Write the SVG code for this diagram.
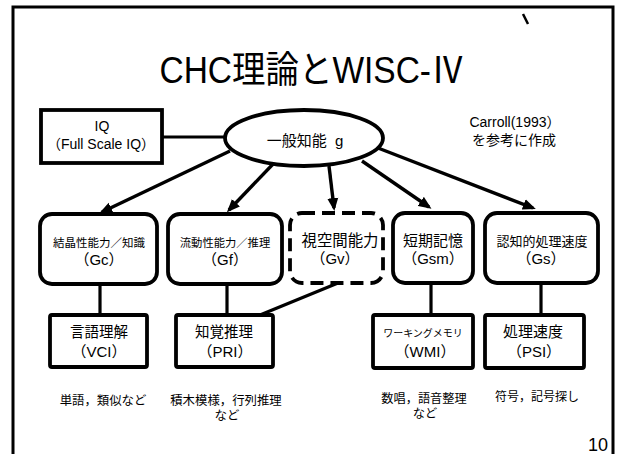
<svg xmlns="http://www.w3.org/2000/svg" width="620" height="454" viewBox="0 0 620 454">
<defs>
<style>
text{font-family:"Liberation Sans","Noto Sans CJK JP",sans-serif;fill:#000;text-anchor:middle}
.box{fill:#fff;stroke:#000;stroke-width:3.8}
.dash{fill:#fff;stroke:#000;stroke-width:3.8;stroke-dasharray:13 7}
.ln{stroke:#000;stroke-width:3.2;fill:none}
.ar{stroke:#000;stroke-width:3.4;fill:none;marker-end:url(#ah)}
</style>
<marker id="ah" markerUnits="userSpaceOnUse" markerWidth="14" markerHeight="12" refX="10" refY="6" orient="auto">
<path d="M0,0.5 L13,6 L0,11.5 z" fill="#000"/>
</marker>
</defs>
<rect width="620" height="454" fill="#fff"/>
<path d="M13,454 V7 H613 V454" fill="none" stroke="#000" stroke-width="3"/>
<line x1="523" y1="14" x2="528" y2="24" stroke="#000" stroke-width="2.5"/>
<text x="312" y="83" font-size="37" textLength="305" lengthAdjust="spacingAndGlyphs">CHC理論とWISC-Ⅳ</text>
<text x="515" y="127" font-size="14">Carroll(1993）</text>
<text x="514" y="145" font-size="14">を参考に作成</text>

<g id="connectors">
<line class="ln" x1="162" y1="137" x2="226" y2="137"/>
<line class="ar" x1="230" y1="151" x2="102" y2="212"/>
<line class="ar" x1="274" y1="163" x2="229" y2="210"/>
<line class="ar" x1="329" y1="166" x2="334" y2="208"/>
<line class="ar" x1="362" y1="161" x2="429" y2="207"/>
<line class="ar" x1="378" y1="148" x2="533" y2="208"/>
<line class="ln" x1="100" y1="284" x2="100" y2="315"/>
<line class="ln" x1="227" y1="284" x2="227" y2="315"/>
<line class="ln" x1="431" y1="283" x2="431" y2="315"/>
<line class="ln" x1="541" y1="283" x2="541" y2="315"/>
<line class="ln" x1="260" y1="315" x2="338" y2="283"/>
</g>

<g id="iq">
<rect class="box" x="41" y="110" width="121" height="53"/>
<text x="102" y="131" font-size="14">IQ</text>
<text x="101" y="149" font-size="14">（Full Scale IQ）</text>
</g>
<g id="g">
<ellipse class="box" cx="304" cy="138" rx="79" ry="28"/>
<text x="305" y="146" font-size="15">一般知能&#160;&#160;g</text>
</g>
<g id="gc">
<rect class="box" x="40" y="214" width="117" height="70" rx="12"/>
<text x="99" y="247" font-size="11.5">結晶性能力／知識</text>
<text x="99" y="265" font-size="15">（Gc）</text>
</g>
<g id="gf">
<rect class="box" x="168" y="214" width="114" height="70" rx="12"/>
<text x="225" y="247" font-size="11.3">流動性能力／推理</text>
<text x="225" y="265" font-size="15">（Gf）</text>
</g>
<g id="gv">
<rect class="dash" x="290" y="213" width="93" height="70" rx="12"/>
<text x="340" y="246" font-size="15.4">視空間能力</text>
<text x="335" y="264" font-size="15">（Gv）</text>
</g>
<g id="gsm">
<rect class="box" x="393" y="213" width="80" height="70" rx="12"/>
<text x="433" y="246" font-size="15">短期記憶</text>
<text x="433" y="264" font-size="15">（Gsm）</text>
</g>
<g id="gs">
<rect class="box" x="485" y="213" width="113" height="70" rx="12"/>
<text x="542" y="246" font-size="13">認知的処理速度</text>
<text x="541" y="264" font-size="15">（Gs）</text>
</g>
<g id="vci">
<rect class="box" x="50" y="315" width="97" height="52" rx="2"/>
<text x="99" y="337" font-size="14.5">言語理解</text>
<text x="99" y="357" font-size="15">（VCI）</text>
</g>
<g id="pri">
<rect class="box" x="176" y="315" width="97" height="52" rx="2"/>
<text x="224" y="337" font-size="14.5">知覚推理</text>
<text x="225" y="357" font-size="15">（PRI）</text>
</g>
<g id="wmi">
<rect class="box" x="373" y="315" width="100" height="53" rx="2"/>
<text x="423" y="337" font-size="10">ワーキングメモリ</text>
<text x="425" y="357" font-size="15">（WMI）</text>
</g>
<g id="psi">
<rect class="box" x="485" y="315" width="99" height="53" rx="2"/>
<text x="533" y="337" font-size="15">処理速度</text>
<text x="534" y="357" font-size="15">（PSI）</text>
</g>

<text x="103" y="405" font-size="12.4">単語，類似など</text>
<text x="226" y="405" font-size="12.4">積木模様，行列推理</text>
<text x="227" y="420" font-size="12.4">など</text>
<text x="424" y="403" font-size="12.2">数唱，語音整理</text>
<text x="425" y="418" font-size="12.2">など</text>
<text x="537" y="401" font-size="12">符号，記号探し</text>
<text x="608" y="451" font-size="18" style="text-anchor:end">10</text>
</svg>
